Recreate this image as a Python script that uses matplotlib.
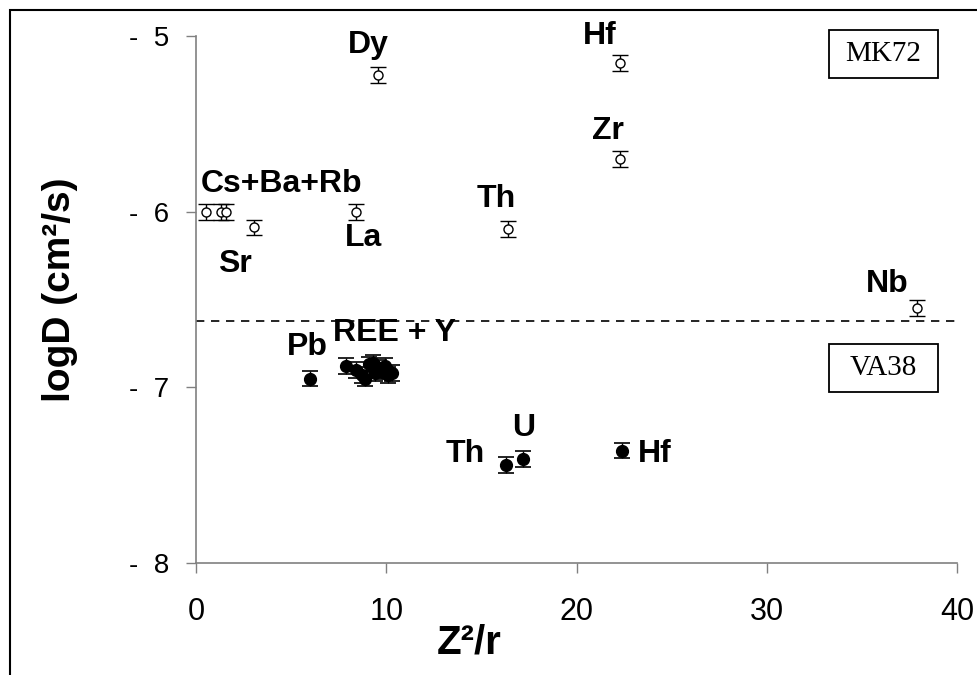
import matplotlib
matplotlib.use("Agg")
import matplotlib.pyplot as plt
from matplotlib.patches import Rectangle
from matplotlib.ticker import FuncFormatter

# MK72 - open symbols
mk72_x = [0.5, 1.3, 1.6, 3.05, 8.4, 9.55, 16.4, 22.3, 22.3, 37.9]
mk72_y = [-6.00, -6.00, -6.00, -6.09, -6.00, -5.22, -6.10, -5.70, -5.155, -6.55]
mk72_err = [0.045, 0.045, 0.045, 0.045, 0.045, 0.045, 0.045, 0.045, 0.045, 0.045]

# VA38 - filled symbols (Pb, REE+Y cluster, Th, U, Hf)
va38_x = [6.0, 7.9, 8.4, 8.7, 8.9, 9.1, 9.3, 9.4, 9.6, 9.8, 9.95, 10.1, 10.3, 16.3, 17.2, 22.4]
va38_y = [-6.95, -6.88, -6.90, -6.93, -6.95, -6.87, -6.86, -6.92, -6.89, -6.91, -6.88,
          -6.93, -6.92, -7.44, -7.41, -7.36]
va38_err = [0.045] * 16

boundary = -6.62

labels = [("Dy", 9.05, -5.05), ("Hf", 21.2, -5.0), ("Zr", 21.65, -5.54),
          ("Cs+Ba+Rb", 4.5, -5.84), ("Sr", 2.05, -6.30), ("La", 8.8, -6.15),
          ("Th", 15.8, -5.93), ("Nb", 36.35, -6.41), ("Pb", 5.85, -6.77),
          ("REE + Y", 10.45, -6.69), ("Th", 14.15, -7.38), ("U", 17.2, -7.23),
          ("Hf", 24.1, -7.38)]

plt.rcParams['font.family'] = ['Liberation Sans', 'DejaVu Sans']
narrow = ['Liberation Sans Narrow', 'Liberation Sans']

fig = plt.figure(figsize=(9.77, 6.75), dpi=100)
ax = fig.add_axes([196 / 977, 1 - 563 / 675, (957 - 196) / 977, (563 - 36) / 675])

ax.axhline(boundary, color='black', lw=1.2, ls=(0, (5, 4)), zorder=1)

ax.errorbar(mk72_x, mk72_y, yerr=mk72_err, fmt='o', ms=6.5, mfc='white', mec='black',
            mew=1.0, ecolor='black', elinewidth=1.0, capsize=5.5, capthick=1.2,
            clip_on=False, zorder=3)
ax.errorbar(va38_x, va38_y, yerr=va38_err, fmt='o', ms=8.5, mfc='black', mec='black',
            ecolor='black', elinewidth=1.0, capsize=5.5, capthick=1.2,
            clip_on=False, zorder=3)

for txt, x, y in labels:
    ax.text(x, y, txt, fontsize=23, fontweight='bold', ha='center', va='center')

ax.set_xlim(0, 40)
ax.set_ylim(-8, -5)
ax.set_xticks([0, 10, 20, 30, 40])
ax.set_yticks([-8, -7, -6, -5])
ax.yaxis.set_major_formatter(FuncFormatter(lambda v, p: "-  %d" % abs(round(v))))

for s in ['top', 'right']:
    ax.spines[s].set_visible(False)
for s in ['left', 'bottom']:
    ax.spines[s].set_color('#808080')
    ax.spines[s].set_linewidth(1.2)

ax.tick_params(axis='y', direction='out', length=7.5, width=1, color='#808080',
               pad=12, labelsize=20)
ax.tick_params(axis='x', direction='out', length=7.5, width=1, color='#808080',
               pad=17, labelsize=22)
for lab in ax.get_xticklabels():
    lab.set_family(narrow)

fig.text(60 / 977, 1 - 290 / 675, "logD (cm²/s)", rotation=90, fontsize=28,
         fontweight='bold', ha='center', va='center')
fig.text(469 / 977, 1 - 642 / 675, "Z²/r", fontsize=29, fontweight='bold',
         family=narrow, ha='center', va='center')

# boxed sample names
for name, top in [("MK72", 30), ("VA38", 344)]:
    fig.patches.append(Rectangle((829 / 977, 1 - (top + 48) / 675), 109 / 977, 48 / 675,
                                 transform=fig.transFigure, fill=False, ec='black', lw=1.3))
    fig.text(883.5 / 977, 1 - (top + 24) / 675, name, fontsize=21,
             family=['Liberation Serif', 'DejaVu Serif'], ha='center', va='center')

# frame round the whole picture
fig.patches.append(Rectangle((10 / 977, -0.1), 1.2, 1.1 - 10 / 675,
                             transform=fig.transFigure, fill=False, ec='black', lw=1.5))

fig.savefig("out.png", dpi=100)
